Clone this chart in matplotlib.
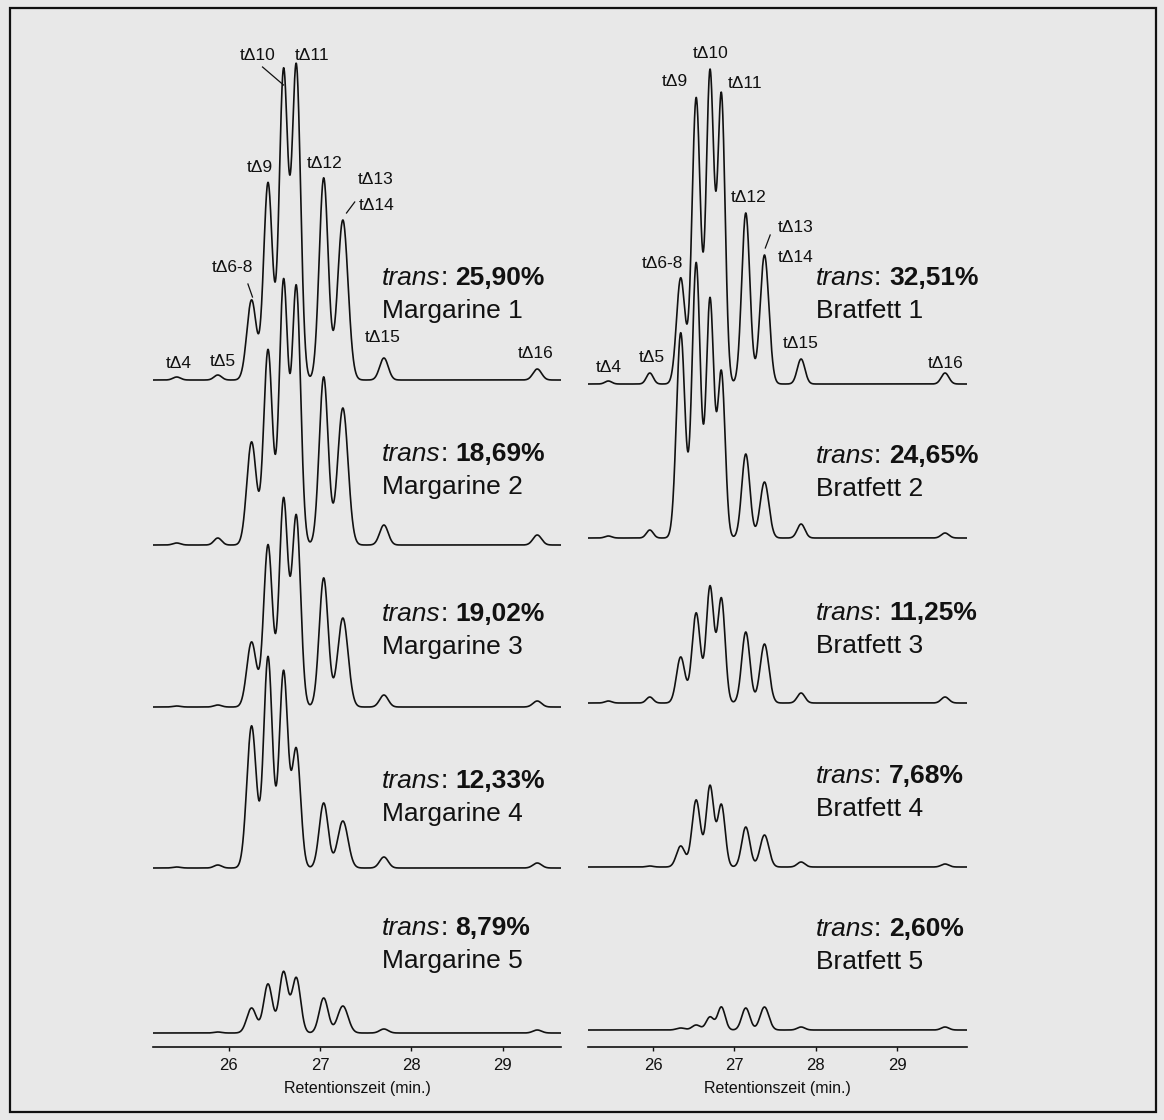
import numpy as np
import matplotlib.pyplot as plt
from matplotlib.patches import Rectangle

plt.rcParams['font.family'] = ['Liberation Sans', 'DejaVu Sans']

W, H = 1164, 1120

peak_names = ['tΔ4', 'tΔ5', 'tΔ6-8', 'tΔ9', 'tΔ10', 'tΔ11', 'tΔ12', 'tΔ13/14', 'tΔ15', 'tΔ16']

# retention times (min) of the peaks, per panel
rt_margarine = [25.43, 25.88, 26.25, 26.43, 26.60, 26.74, 27.04, 27.25, 27.70, 29.38]
rt_bratfett = [25.45, 25.96, 26.34, 26.53, 26.70, 26.84, 27.14, 27.37, 27.82, 29.59]

# peak widths (sigma, min)
sd_margarine = [0.042, 0.042, 0.052, 0.048, 0.047, 0.047, 0.049, 0.057, 0.047, 0.047]
sd_bratfett = [0.042, 0.042, 0.052, 0.051, 0.047, 0.046, 0.05, 0.054, 0.047, 0.047]

# peak heights (detector signal, arbitrary units)
margarine_1 = [3, 5, 80, 197, 308, 313, 202, 160, 22, 11]
margarine_2 = [2, 7, 103, 195, 263, 257, 168, 137, 20, 10]
margarine_3 = [1, 2, 65, 162, 207, 190, 129, 89, 12, 6]
margarine_4 = [1, 3, 142, 211, 196, 118, 65, 47, 11, 5]
margarine_5 = [0, 1, 25, 49, 61, 55, 35, 27, 4, 3]

bratfett_1 = [3, 11, 106, 286, 311, 288, 171, 129, 25, 11]
bratfett_2 = [2, 8, 205, 275, 238, 165, 84, 56, 14, 5]
bratfett_3 = [2, 6, 46, 90, 116, 104, 71, 59, 10, 6]
bratfett_4 = [0, 1, 21, 67, 81, 62, 40, 32, 5, 3]
bratfett_5 = [0, 0, 2, 5, 13, 23, 22, 23, 3, 3]

trans_margarine = ['25,90%', '18,69%', '19,02%', '12,33%', '8,79%']
trans_bratfett = ['32,51%', '24,65%', '11,25%', '7,68%', '2,60%']
names_margarine = ['Margarine 1', 'Margarine 2', 'Margarine 3', 'Margarine 4', 'Margarine 5']
names_bratfett = ['Bratfett 1', 'Bratfett 2', 'Bratfett 3', 'Bratfett 4', 'Bratfett 5']

ticks = [26, 27, 28, 29]

fig = plt.figure(figsize=(W / 100, H / 100), dpi=100)
fig.patch.set_facecolor('#e8e8e8')
fig.add_artist(Rectangle((10 / W, 1 - 1112 / H), 1146 / W, 1104 / H,
                         transform=fig.transFigure, fill=False, lw=1.6, ec='#111111'))


def make_axes(left_px, right_px, xlim):
    ax = fig.add_axes([left_px / W, 1 - 1047 / H, (right_px - left_px) / W, 1007 / H])
    ax.set_facecolor('none')
    ax.set_xlim(*xlim)
    ax.set_ylim(0, 1007)
    for s in ['top', 'left', 'right']:
        ax.spines[s].set_visible(False)
    ax.spines['bottom'].set_linewidth(1.2)
    ax.spines['bottom'].set_color('#111111')
    ax.set_yticks([])
    ax.set_xticks(ticks)
    ax.tick_params(axis='x', length=3, width=1, direction='out', pad=5,
                   labelsize=12, colors='#111111')
    ax.set_xlabel('Retentionszeit (min.)', fontsize=11.5, labelpad=6, color='#111111')
    return ax


def trace(ax, rt, sd, heights, offset):
    t = np.linspace(ax.get_xlim()[0], ax.get_xlim()[1], 2000)
    y = np.zeros_like(t)
    for c, s, h in zip(rt, sd, heights):
        y += h * np.exp(-(t - c) ** 2 / (2 * s ** 2))
    ax.plot(t, y + offset, color='#111111', lw=1.2)


def trans_label(ax, x, y, value, name):
    t1 = ax.text(x, y, 'trans', style='italic', fontsize=19, va='baseline', color='#111111')
    t2 = ax.annotate(': ', xy=(1, 0), xycoords=t1, va='bottom', fontsize=19, color='#111111')
    ax.annotate(value, xy=(1, 0), xycoords=t2, va='bottom', fontsize=19,
                fontweight='bold', color='#111111')
    ax.text(x, y - 33, name, fontsize=19, va='baseline', color='#111111')


ax1 = make_axes(153, 561, (25.17, 29.64))
ax2 = make_axes(588, 967, (25.20, 29.86))

offsets_m = [667, 502, 340, 179, 14]
offsets_b = [663, 509, 344, 180, 17]
trans_y_m = [762, 586, 426, 259, 112]
trans_y_b = [762, 584, 427, 264, 111]

for heights, off, val, nm, ty in zip(
        [margarine_1, margarine_2, margarine_3, margarine_4, margarine_5],
        offsets_m, trans_margarine, names_margarine, trans_y_m):
    trace(ax1, rt_margarine, sd_margarine, heights, off)
    trans_label(ax1, 27.68, ty, val, nm)

for heights, off, val, nm, ty in zip(
        [bratfett_1, bratfett_2, bratfett_3, bratfett_4, bratfett_5],
        offsets_b, trans_bratfett, names_bratfett, trans_y_b):
    trace(ax2, rt_bratfett, sd_bratfett, heights, off)
    trans_label(ax2, 28.0, ty, val, nm)

# peak labels of the top traces
lab_m = {'tΔ4': (25.45, 684), 'tΔ5': (25.93, 686), 'tΔ6-8': (26.04, 780),
         'tΔ9': (26.34, 880), 'tΔ10': (26.32, 991), 'tΔ11': (26.91, 992),
         'tΔ12': (27.05, 884), 'tΔ13': (27.61, 867), 'tΔ14': (27.62, 841),
         'tΔ15': (27.69, 709), 'tΔ16': (29.36, 693)}
lab_b = {'tΔ4': (25.46, 680), 'tΔ5': (25.99, 689), 'tΔ6-8': (26.12, 784),
         'tΔ9': (26.27, 965), 'tΔ10': (26.71, 994), 'tΔ11': (27.13, 964),
         'tΔ12': (27.17, 849), 'tΔ13': (27.75, 820), 'tΔ14': (27.75, 790),
         'tΔ15': (27.81, 703), 'tΔ16': (29.60, 684)}
for ax, labs in [(ax1, lab_m), (ax2, lab_b)]:
    for k, (x, y) in labs.items():
        ax.text(x, y, k, fontsize=12.5, ha='center', va='center', color='#111111')

leaders_m = [((26.37, 26.60), (980, 962)), ((27.29, 27.38), (834, 845)),
             ((26.21, 26.26), (763, 750))]
leaders_b = [((27.38, 27.44), (799, 812))]
for ax, leads in [(ax1, leaders_m), (ax2, leaders_b)]:
    for xs, ys in leads:
        ax.plot(xs, ys, color='#111111', lw=0.9)

fig.savefig('out.png', dpi=100, facecolor=fig.get_facecolor())
